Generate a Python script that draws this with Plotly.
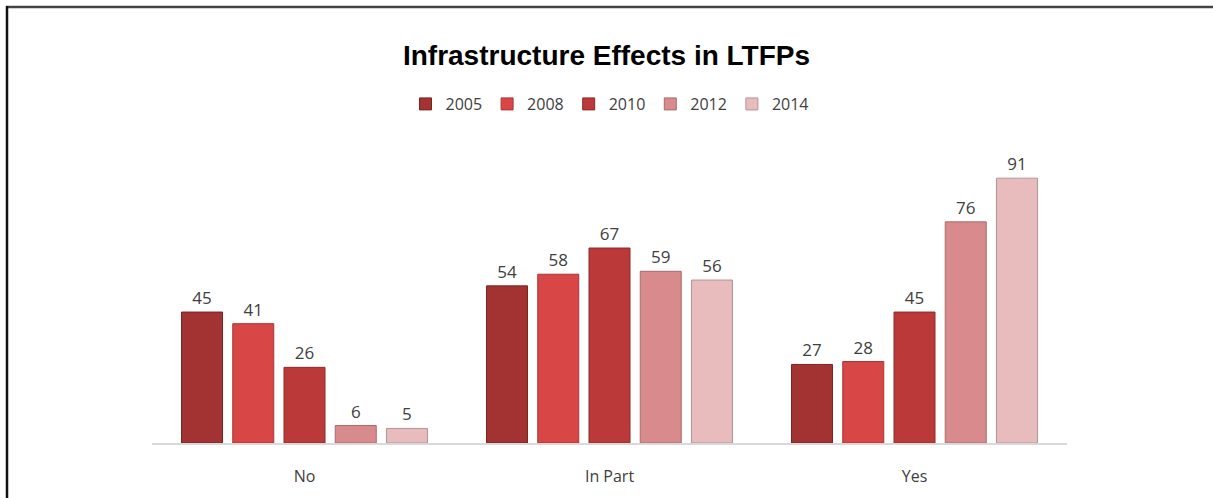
import plotly.graph_objects as go

categories = ["No", "In Part", "Yes"]
years = ["2005", "2008", "2010", "2012", "2014"]
values_2005 = [45, 54, 27]
values_2008 = [41, 58, 28]
values_2010 = [26, 67, 45]
values_2012 = [6, 59, 76]
values_2014 = [5, 56, 91]
series = [values_2005, values_2008, values_2010, values_2012, values_2014]
colors = ["#a33232", "#d94646", "#bb3939", "#d98a8c", "#e8bcbd"]
edge = ["#7a2222", "#a83434", "#8e2a2a", "#a86a6b", "#b89393"]

fig = go.Figure()
for name, vals, c, e in zip(years, series, colors, edge):
    fig.add_trace(go.Bar(
        x=categories, y=vals, name=name,
        marker=dict(color=c, line=dict(color=e, width=1)),
        text=[str(v) for v in vals], textposition="outside",
        textfont=dict(family="Open Sans, Liberation Sans, sans-serif", size=17, color="#404040"),
        cliponaxis=False,
    ))

L, R, T, B = 152, 146, 152, 55
W, H = 1213, 498
pw = W - L - R
ph = H - T - B

def px_x(p):
    return (p - L) / pw

def px_y(p):
    return (H - B - p) / ph

fig.update_layout(
    width=W, height=H,
    margin=dict(l=L, r=R, t=T, b=B),
    paper_bgcolor="white", plot_bgcolor="white",
    barmode="group", bargap=0.16, bargroupgap=0.2,
    title=dict(text="<b>Infrastructure Effects in LTFPs</b>", x=0.5, xanchor="center",
               y=1 - 55 / H, yanchor="middle", yref="container",
               font=dict(family="Liberation Sans, Arial, sans-serif", size=28, color="black")),
    legend=dict(orientation="h", x=0.5, xanchor="center", y=px_y(104), yanchor="middle",
                font=dict(family="Open Sans, Liberation Sans, sans-serif", size=16, color="#404040"),
                itemwidth=30, tracegroupgap=0, traceorder="normal"),
    xaxis=dict(showline=True, linecolor="#d9d9d9", linewidth=2, showgrid=False,
               ticks="", ticklabelstandoff=18,
               tickfont=dict(family="Open Sans, Liberation Sans, sans-serif", size=16, color="#404040")),
    yaxis=dict(range=[0, 100], visible=False, showgrid=False, zeroline=False),
    showlegend=True,
)

fig.add_shape(type="line", xref="paper", yref="paper",
              x0=px_x(6), x1=px_x(W), y0=px_y(7), y1=px_y(7),
              line=dict(color="#444444", width=2.5))
fig.add_shape(type="line", xref="paper", yref="paper",
              x0=px_x(7), x1=px_x(7), y0=px_y(6), y1=px_y(H),
              line=dict(color="#111111", width=2.5))

fig.write_html("out.html")
